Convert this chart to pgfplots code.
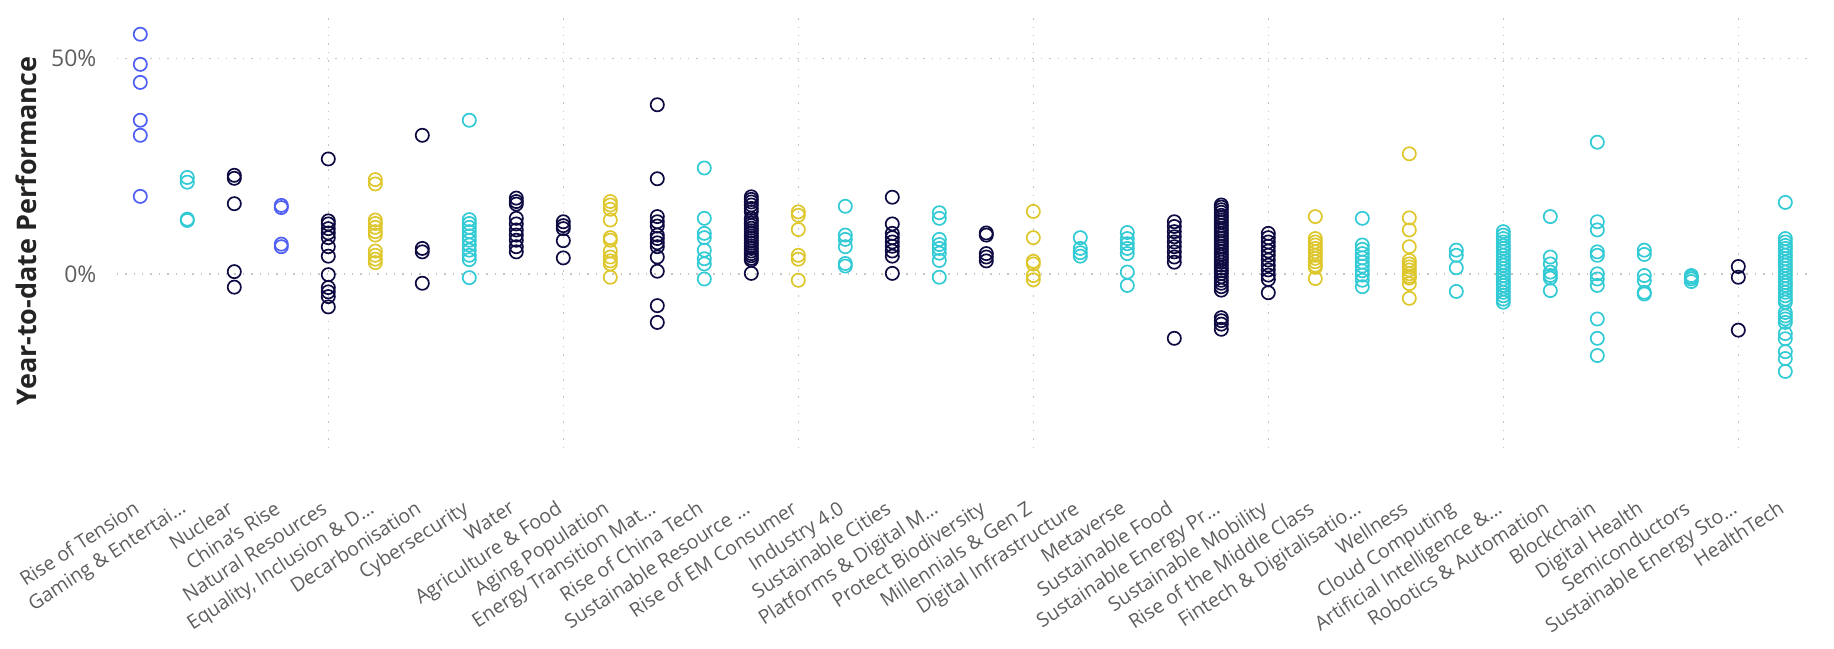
\documentclass[border=0pt]{standalone}
\usepackage{fontspec}
\setmainfont{Open Sans}
\usepackage{pgfplots}
\pgfplotsset{compat=1.18}
\definecolor{navyc}{HTML}{0D0B42}
\definecolor{cyanc}{HTML}{32CBD5}
\definecolor{yellc}{HTML}{DEC72C}
\definecolor{bluec}{HTML}{4F5FF2}
\definecolor{labc}{HTML}{605E5C}
\definecolor{titc}{HTML}{252423}
\definecolor{gridc}{HTML}{C4C4C4}
\pgfplotsset{
  pt/.style={only marks, mark=o, mark size=3.3pt, mark options={line width=0.85pt, draw=#1}, color=#1},
}
\begin{document}
\begin{tikzpicture}
\useasboundingbox (0,0) rectangle (917pt,324pt);
\begin{axis}[
  at={(58.4pt,100pt)}, anchor=south west,
  width=846pt, height=217pt, scale only axis,
  xmin=-0.5, xmax=35.5, ymin=-40.5, ymax=60.4,
  axis line style={draw=none},
  major tick length=0pt,
  xtick={0,1,2,3,4,5,6,7,8,9,10,11,12,13,14,15,16,17,18,19,20,21,22,23,24,25,26,27,28,29,30,31,32,33,34,35},
  xticklabels={{Rise of Tension},{Gaming \& Entertai…},{Nuclear},{China's Rise},{Natural Resources},{Equality, Inclusion \& D…},{Decarbonisation},{Cybersecurity},{Water},{Agriculture \& Food},{Aging Population},{Energy Transition Mat…},{Rise of China Tech},{Sustainable Resource …},{Rise of EM Consumer},{Industry 4.0},{Sustainable Cities},{Platforms \& Digital M…},{Protect Biodiversity},{Millennials \& Gen Z},{Digital Infrastructure},{Metaverse},{Sustainable Food},{Sustainable Energy Pr…},{Sustainable Mobility},{Rise of the Middle Class},{Fintech \& Digitalisatio…},{Wellness},{Cloud Computing},{Artificial Intelligence \&…},{Robotics \& Automation},{Blockchain},{Digital Health},{Semiconductors},{Sustainable Energy Sto…},{HealthTech}},
  xticklabel shift=25.5pt,
  xticklabel style={xshift=-4pt, rotate=33, anchor=north east, inner sep=0pt, font=\fontsize{9.8}{12}\selectfont, text=labc},
  extra x ticks={4,9,14,19,24,29,34},
  extra x tick labels={},
  extra x tick style={grid=major},
  ytick={0,50}, yticklabels={0\%,50\%},
  yticklabel shift=10pt,
  yticklabel style={anchor=east, inner sep=0pt, font=\fontsize{11.5}{13}\selectfont, text=labc},
  ymajorgrids,
  grid style={gridc, line width=0.7pt, dash pattern=on 0.7pt off 3.5pt},
  ylabel={Year-to-date Performance},
  ylabel style={at={(axis description cs:-0.0537,0.5)}, anchor=center, font=\fontsize{13.5}{15}\selectfont\bfseries, text=titc},
  clip=false,
]
\addplot[pt=bluec] coordinates {(0,55.7) (0,48.7) (0,44.5) (0,35.7) (0,32.2) (0,18.0)};
\addplot[pt=cyanc] coordinates {(1,22.4) (1,21.3) (1,12.7) (1,12.4)};
\addplot[pt=navyc] coordinates {(2,22.9) (2,22.2) (2,16.3) (2,0.5) (2,-3.1)};
\addplot[pt=bluec] coordinates {(3,15.9) (3,15.4) (3,6.9) (3,6.3)};
\addplot[pt=navyc] coordinates {(4,26.7) (4,12.3) (4,11.6) (4,10.5) (4,9.5) (4,8.4) (4,6.3) (4,4.1) (4,-0.2) (4,-3.2) (4,-4.2) (4,-5.3) (4,-7.7)};
\addplot[pt=yellc] coordinates {(5,21.9) (5,20.9) (5,12.5) (5,11.7) (5,10.8) (5,9.8) (5,9.0) (5,5.3) (5,4.3) (5,3.4) (5,2.6)};
\addplot[pt=navyc] coordinates {(6,32.2) (6,5.9) (6,5.1) (6,-2.2)};
\addplot[pt=cyanc] coordinates {(7,35.7) (7,12.6) (7,11.7) (7,10.8) (7,9.8) (7,8.8) (7,7.8) (7,6.7) (7,5.5) (7,4.3) (7,3.3) (7,-0.9)};
\addplot[pt=navyc] coordinates {(8,17.6) (8,16.8) (8,16.2) (8,12.9) (8,11.6) (8,10.2) (8,9.0) (8,7.8) (8,6.3) (8,5.1)};
\addplot[pt=navyc] coordinates {(9,12.1) (9,11.2) (9,10.5) (9,7.7) (9,3.7)};
\addplot[pt=yellc] coordinates {(10,16.8) (10,16.0) (10,15.0) (10,12.5) (10,8.4) (10,7.8) (10,5.3) (10,3.9) (10,3.0) (10,2.3) (10,-0.8)};
\addplot[pt=navyc] coordinates {(11,39.3) (11,22.1) (11,13.3) (11,12.1) (11,11.1) (11,9.0) (11,8.2) (11,7.2) (11,6.3) (11,3.9) (11,0.6) (11,-7.4) (11,-11.3)};
\addplot[pt=cyanc] coordinates {(12,24.6) (12,12.9) (12,9.4) (12,8.4) (12,5.5) (12,3.5) (12,2.3) (12,-1.2)};
\addplot[pt=navyc] coordinates {(13,17.9) (13,17.3) (13,16.7) (13,16.0) (13,15.2) (13,14.4) (13,12.9) (13,12.4) (13,11.8) (13,11.2) (13,10.6) (13,10.0) (13,9.4) (13,8.8) (13,8.3) (13,7.7) (13,7.1) (13,6.5) (13,5.9) (13,5.3) (13,4.7) (13,4.2) (13,3.6) (13,3.2) (13,0.1)};
\addplot[pt=yellc] coordinates {(14,14.4) (14,13.6) (14,10.3) (14,4.3) (14,3.4) (14,-1.5)};
\addplot[pt=cyanc] coordinates {(15,15.7) (15,9.0) (15,8.0) (15,6.3) (15,2.4) (15,1.8)};
\addplot[pt=navyc] coordinates {(16,17.8) (16,11.6) (16,9.4) (16,8.4) (16,7.4) (16,6.4) (16,5.3) (16,4.1) (16,0.1)};
\addplot[pt=cyanc] coordinates {(17,14.2) (17,12.9) (17,8.0) (17,6.8) (17,5.9) (17,4.8) (17,3.1) (17,-0.8)};
\addplot[pt=navyc] coordinates {(18,9.5) (18,9.0) (18,4.7) (18,3.9) (18,3.0)};
\addplot[pt=yellc] coordinates {(19,14.5) (19,8.4) (19,2.9) (19,2.3) (19,-0.4) (19,-1.4)};
\addplot[pt=cyanc] coordinates {(20,8.4) (20,5.9) (20,4.9) (20,4.1)};
\addplot[pt=cyanc] coordinates {(21,9.6) (21,8.2) (21,7.0) (21,5.9) (21,4.7) (21,0.4) (21,-2.7)};
\addplot[pt=navyc] coordinates {(22,12.1) (22,11.0) (22,9.8) (22,8.6) (22,7.4) (22,6.3) (22,5.1) (22,3.9) (22,2.7) (22,-15.0)};
\addplot[pt=navyc] coordinates {(23,16.0) (23,15.5) (23,14.9) (23,14.3) (23,13.6) (23,13.1) (23,12.5) (23,11.9) (23,11.2) (23,10.6) (23,10.0) (23,9.4) (23,8.8) (23,8.2) (23,7.6) (23,7.0) (23,6.4) (23,5.8) (23,5.1) (23,4.5) (23,3.9) (23,3.3) (23,2.7) (23,2.0) (23,1.3) (23,0.7) (23,0.1) (23,-0.7) (23,-1.5) (23,-2.2) (23,-3.0) (23,-3.8) (23,-10.2) (23,-10.9) (23,-11.7) (23,-12.9)};
\addplot[pt=navyc] coordinates {(24,9.4) (24,8.4) (24,7.4) (24,6.4) (24,5.3) (24,4.3) (24,3.2) (24,2.0) (24,0.9) (24,-0.3) (24,-1.3) (24,-4.4)};
\addplot[pt=yellc] coordinates {(25,13.3) (25,8.2) (25,7.4) (25,6.7) (25,5.9) (25,5.1) (25,4.3) (25,3.6) (25,2.8) (25,2.0) (25,1.5) (25,-1.1)};
\addplot[pt=cyanc] coordinates {(26,12.9) (26,6.7) (26,5.7) (26,4.7) (26,3.7) (26,2.7) (26,1.8) (26,0.7) (26,-0.3) (26,-1.5) (26,-3.0)};
\addplot[pt=yellc] coordinates {(27,27.9) (27,13.0) (27,10.2) (27,6.3) (27,3.1) (27,2.3) (27,1.6) (27,0.9) (27,0.0) (27,-0.6) (27,-1.0) (27,-2.3) (27,-5.7)};
\addplot[pt=cyanc] coordinates {(28,5.5) (28,4.3) (28,1.4) (28,-4.1)};
\addplot[pt=cyanc] coordinates {(29,9.8) (29,9.0) (29,8.2) (29,7.4) (29,6.6) (29,5.9) (29,5.1) (29,4.3) (29,3.5) (29,2.7) (29,2.0) (29,1.2) (29,0.4) (29,-0.4) (29,-1.2) (29,-2.0) (29,-2.7) (29,-3.5) (29,-4.3) (29,-5.1) (29,-5.9) (29,-6.6)};
\addplot[pt=cyanc] coordinates {(30,13.3) (30,3.9) (30,2.3) (30,0.4) (30,-0.4) (30,-1.0) (30,-3.9)};
\addplot[pt=cyanc] coordinates {(31,30.6) (31,12.1) (31,10.2) (31,5.1) (31,4.3) (31,0.0) (31,-1.2) (31,-2.7) (31,-10.5) (31,-15.0) (31,-19.0)};
\addplot[pt=cyanc] coordinates {(32,5.5) (32,4.5) (32,-0.4) (32,-1.6) (32,-4.3) (32,-4.7)};
\addplot[pt=cyanc] coordinates {(33,-0.4) (33,-0.8) (33,-1.2) (33,-1.8)};
\addplot[pt=navyc] coordinates {(34,1.7) (34,-0.8) (34,-13.1)};
\addplot[pt=cyanc] coordinates {(35,16.6) (35,8.2) (35,7.4) (35,6.6) (35,5.9) (35,5.1) (35,4.3) (35,3.5) (35,2.7) (35,2.0) (35,1.2) (35,0.4) (35,-0.4) (35,-1.2) (35,-2.0) (35,-2.7) (35,-3.5) (35,-4.3) (35,-5.1) (35,-5.9) (35,-6.6) (35,-9.0) (35,-9.8) (35,-10.5) (35,-11.3) (35,-13.9) (35,-15.1) (35,-18.1) (35,-19.7) (35,-22.7)};
\end{axis}
\end{tikzpicture}
\end{document}
